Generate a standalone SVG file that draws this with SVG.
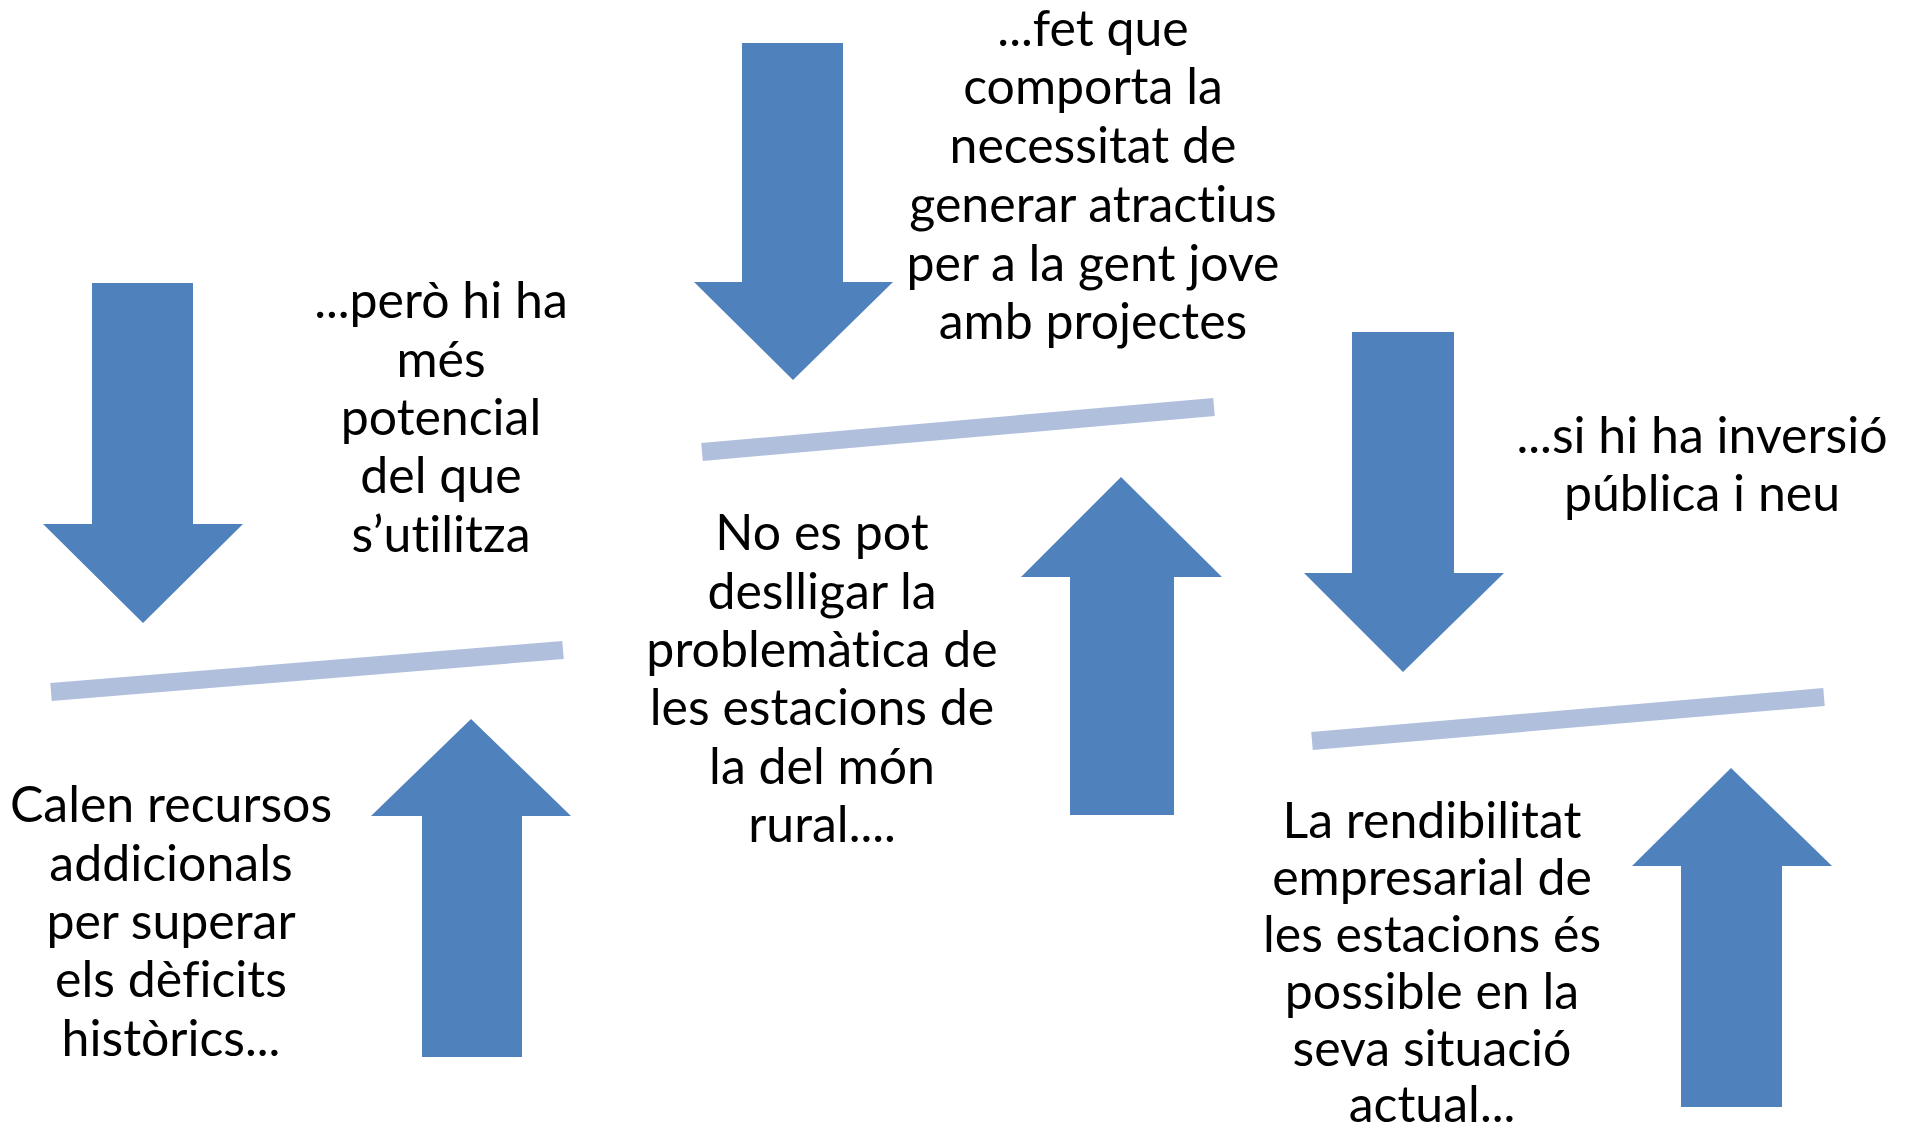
<svg xmlns="http://www.w3.org/2000/svg" width="1905" height="1137" viewBox="0 0 1905 1137">
<style>
.arrow{fill:#4F81BD}
.bar{stroke:#B0C0DC;stroke-width:18;stroke-linecap:butt;fill:none}
.t{font-family:Lato,"Liberation Sans",sans-serif;font-size:50px;fill:#000;text-anchor:middle;font-variant-ligatures:none}
</style>
<rect width="1905" height="1137" fill="#fff"/>
<g id="connectors">
<line class="bar" x1="51" y1="692" x2="563" y2="650"/>
<line class="bar" x1="702" y1="452" x2="1214" y2="407"/>
<line class="bar" x1="1312" y1="741" x2="1824" y2="697"/>
</g>
<g id="arrow-down-1"><polygon class="arrow" points="92,283 193,283 193,524 243,524 143,623 43,524 92,524"/></g>
<g id="arrow-up-1"><polygon class="arrow" points="422,1057 522,1057 522,816 571,816 471,719 371,816 422,816"/></g>
<g id="arrow-down-2"><polygon class="arrow" points="742,43 843,43 843,282 893,282 793,380 694,282 742,282"/></g>
<g id="arrow-up-2"><polygon class="arrow" points="1070,815 1174,815 1174,577 1222,577 1121,477 1021,577 1070,577"/></g>
<g id="arrow-down-3"><polygon class="arrow" points="1352,332 1454,332 1454,573 1504,573 1403,672 1304,573 1352,573"/></g>
<g id="arrow-up-3"><polygon class="arrow" points="1681,1107 1782,1107 1782,866 1832,866 1731,768 1632,866 1681,866"/></g>
<g id="text-1">
<text class="t" x="441" y="318">...però hi ha</text>
<text class="t" x="441" y="377">més</text>
<text class="t" x="441" y="435">potencial</text>
<text class="t" x="441" y="493">del que</text>
<text class="t" x="441" y="552">s’utilitza</text>
</g>
<g id="text-2">
<text class="t" x="171" y="822">Calen recursos</text>
<text class="t" x="171" y="881">addicionals</text>
<text class="t" x="171" y="939">per superar</text>
<text class="t" x="171" y="997">els dèficits</text>
<text class="t" x="171" y="1056">històrics...</text>
</g>
<g id="text-3">
<text class="t" x="1093" y="46">...fet que</text>
<text class="t" x="1093" y="104">comporta la</text>
<text class="t" x="1093" y="163">necessitat de</text>
<text class="t" x="1093" y="222">generar atractius</text>
<text class="t" x="1093" y="281">per a la gent jove</text>
<text class="t" x="1093" y="339">amb projectes</text>
</g>
<g id="text-4">
<text class="t" x="822" y="550">No es pot</text>
<text class="t" x="822" y="609">deslligar la</text>
<text class="t" x="822" y="667">problemàtica de</text>
<text class="t" x="822" y="725">les estacions de</text>
<text class="t" x="822" y="784">la del món</text>
<text class="t" x="822" y="842">rural....</text>
</g>
<g id="text-5">
<text class="t" x="1702" y="453">...si hi ha inversió</text>
<text class="t" x="1702" y="511">pública i neu</text>
</g>
<g id="text-6">
<text class="t" x="1432" y="838">La rendibilitat</text>
<text class="t" x="1432" y="895">empresarial de</text>
<text class="t" x="1432" y="952">les estacions és</text>
<text class="t" x="1432" y="1009">possible en la</text>
<text class="t" x="1432" y="1066">seva situació</text>
<text class="t" x="1432" y="1122">actual...</text>
</g>
</svg>
